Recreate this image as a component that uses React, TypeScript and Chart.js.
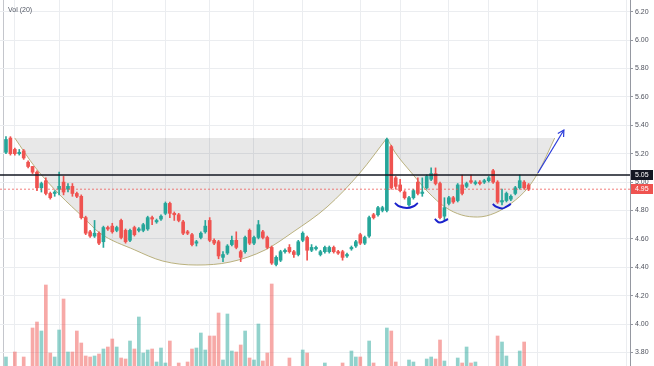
import React, { useEffect, useRef } from 'react';
import { Chart, registerables } from 'chart.js';
Chart.register(...registerables);

// ---- Data ----
const OPEN = [
  5.21, 5.31, 5.23, 5.20, 5.22, 5.14, 5.11, 5.07, 4.96, 5.01,
  4.92, 4.92, 4.95, 5.00, 4.95, 4.97, 4.92, 4.90, 4.75, 4.65,
  4.62, 4.64, 4.58, 4.68, 4.69, 4.66, 4.73, 4.66, 4.59, 4.68,
  4.66, 4.66, 4.67, 4.75, 4.72, 4.74, 4.78, 4.85, 4.78, 4.77,
  4.72, 4.65, 4.63, 4.57, 4.61, 4.65, 4.73, 4.59, 4.58, 4.47,
  4.50, 4.56, 4.59, 4.51, 4.51, 4.66, 4.57, 4.61, 4.65, 4.61,
  4.54, 4.42, 4.45, 4.51, 4.54, 4.51, 4.49, 4.59, 4.61, 4.52,
  4.53, 4.49, 4.51, 4.51, 4.54, 4.51, 4.51, 4.48, 4.53, 4.55,
  4.63, 4.57, 4.62, 4.77, 4.77, 4.80, 4.80, 5.25, 5.03, 4.98,
  4.93, 4.84, 4.89, 5.00, 4.92, 4.96, 5.02, 5.06, 4.99, 4.76,
  4.85, 4.89, 4.87, 4.98, 4.97, 5.01, 4.99, 5.00, 5.00, 5.01,
  5.08, 5.00, 4.86, 4.87, 4.88, 4.92, 4.96, 5.00, 4.98,
];
const HIGH = [
  5.32, 5.32, 5.24, 5.23, 5.23, 5.15, 5.11, 5.08, 5.00, 5.03,
  4.93, 4.94, 5.07, 5.04, 4.99, 4.99, 4.93, 4.91, 4.76, 4.66,
  4.73, 4.65, 4.69, 4.69, 4.71, 4.69, 4.74, 4.67, 4.67, 4.69,
  4.68, 4.71, 4.76, 4.76, 4.74, 4.77, 4.86, 4.86, 4.79, 4.78,
  4.73, 4.66, 4.64, 4.59, 4.65, 4.73, 4.75, 4.60, 4.59, 4.51,
  4.56, 4.62, 4.65, 4.52, 4.62, 4.67, 4.62, 4.73, 4.66, 4.62,
  4.55, 4.48, 4.52, 4.53, 4.56, 4.52, 4.59, 4.65, 4.62, 4.56,
  4.55, 4.52, 4.55, 4.55, 4.55, 4.52, 4.52, 4.50, 4.55, 4.59,
  4.64, 4.62, 4.76, 4.78, 4.83, 4.83, 5.31, 5.26, 5.04, 5.02,
  4.94, 4.90, 4.95, 5.03, 5.03, 5.05, 5.10, 5.10, 5.00, 4.89,
  4.90, 4.90, 4.99, 5.05, 5.00, 5.05, 5.01, 5.01, 5.02, 5.04,
  5.09, 5.01, 4.95, 4.93, 4.91, 4.97, 5.05, 5.01, 4.99,
];
const LOW = [
  5.20, 5.19, 5.19, 5.19, 5.16, 5.10, 5.06, 4.94, 4.93, 4.91,
  4.88, 4.90, 4.91, 4.91, 4.93, 4.90, 4.89, 4.74, 4.63, 4.61,
  4.61, 4.56, 4.54, 4.66, 4.64, 4.65, 4.60, 4.57, 4.58, 4.62,
  4.65, 4.65, 4.66, 4.70, 4.71, 4.73, 4.77, 4.75, 4.73, 4.72,
  4.63, 4.63, 4.55, 4.55, 4.60, 4.64, 4.58, 4.56, 4.46, 4.44,
  4.49, 4.55, 4.53, 4.44, 4.50, 4.56, 4.56, 4.60, 4.60, 4.53,
  4.42, 4.41, 4.44, 4.50, 4.50, 4.47, 4.48, 4.58, 4.45, 4.51,
  4.52, 4.48, 4.50, 4.50, 4.50, 4.49, 4.45, 4.47, 4.52, 4.54,
  4.56, 4.56, 4.61, 4.74, 4.76, 4.79, 4.79, 4.95, 4.95, 4.93,
  4.88, 4.83, 4.88, 4.91, 4.90, 4.95, 5.01, 4.98, 4.74, 4.73,
  4.84, 4.85, 4.86, 4.91, 4.96, 4.99, 4.98, 4.98, 4.99, 5.00,
  4.99, 4.85, 4.84, 4.86, 4.87, 4.91, 4.95, 4.95, 4.94,
];
const CLOSE = [
  5.30, 5.20, 5.20, 5.21, 5.17, 5.11, 5.07, 4.96, 4.99, 4.92,
  4.89, 4.93, 4.97, 4.93, 4.97, 4.92, 4.90, 4.75, 4.64, 4.62,
  4.64, 4.57, 4.68, 4.67, 4.65, 4.68, 4.61, 4.58, 4.66, 4.63,
  4.67, 4.70, 4.75, 4.74, 4.73, 4.76, 4.85, 4.78, 4.77, 4.73,
  4.64, 4.64, 4.56, 4.58, 4.64, 4.69, 4.59, 4.57, 4.48, 4.49,
  4.55, 4.59, 4.54, 4.47, 4.61, 4.57, 4.61, 4.70, 4.61, 4.54,
  4.43, 4.47, 4.51, 4.52, 4.51, 4.49, 4.58, 4.64, 4.52, 4.54,
  4.54, 4.51, 4.54, 4.54, 4.51, 4.50, 4.47, 4.49, 4.54, 4.58,
  4.57, 4.61, 4.75, 4.75, 4.82, 4.82, 5.30, 4.96, 4.97, 4.94,
  4.89, 4.89, 4.94, 4.92, 4.93, 5.04, 5.06, 4.99, 4.75, 4.82,
  4.89, 4.86, 4.98, 4.92, 4.99, 5.00, 5.00, 4.99, 5.01, 5.03,
  5.00, 4.86, 4.87, 4.92, 4.90, 4.96, 5.01, 4.96, 4.95,
];
const VOLUME = [
  15, 4, 20, 5, 15, 5, 44, 50, 41, 87,
  19, 15, 42, 73, 20, 20, 41, 29, 16, 15,
  16, 18, 23, 25, 33, 25, 14, 13, 31, 23,
  55, 19, 22, 23, 10, 24, 9, 31, 5, 9,
  4, 10, 23, 24, 39, 22, 36, 36, 59, 12,
  58, 21, 20, 27, 41, 14, 12, 48, 11, 19,
  88, 5, 4, 5, 14, 5, 4, 22, 19, 5,
  4, 5, 9, 4, 5, 4, 9, 5, 21, 15,
  15, 5, 31, 9, 5, 4, 44, 41, 10, 5,
  4, 12, 10, 5, 4, 13, 15, 13, 32, 11,
  5, 4, 14, 9, 25, 9, 10, 5, 4, 5,
  5, 36, 30, 16, 5, 4, 21, 30, 5,
];

const PRICE_TICKS = [3.8, 4.0, 4.2, 4.4, 4.6, 4.8, 5.0, 5.2, 5.4, 5.6, 5.8, 6.0, 6.2];
const GRID_INDEX = [-0.5, 2, 12, 24, 36, 46, 56, 67, 80, 89, 100, 109, 120, 140];

const CUP_TOP = 5.31;
const CUP_X = [2, 6.55, 12.19, 17.38, 21.2, 29.1, 35.4, 43.1, 50.6, 58.5, 64.8, 72.5, 79.9, 86.0];
const CUP_Y = [5.31, 5.106, 4.909, 4.754, 4.641, 4.522, 4.444, 4.416, 4.437, 4.522, 4.648, 4.825, 5.064, 5.31];
const HANDLE_X = [86.0, 87.8, 91.6, 95.3, 99.1, 102.9, 106.5, 110.4, 114.2, 117.8, 120.1, 123.9];
const HANDLE_Y = [5.31, 5.212, 5.064, 4.93, 4.825, 4.768, 4.754, 4.782, 4.853, 4.958, 5.064, 5.31];

const ARC1_X = [87.8, 88.9, 90.5, 91.9, 93.0];
const ARC1_Y = [4.853, 4.828, 4.818, 4.828, 4.853];
const ARC2_X = [96.8, 98.0, 99.8];
const ARC2_Y = [4.74, 4.715, 4.74];
const ARC3_X = [109.9, 110.8, 112.0, 112.9, 114.0];
const ARC3_Y = [4.846, 4.825, 4.814, 4.825, 4.846];

const ARROW_X = [120.1, 125.97];
const ARROW_Y = [5.064, 5.367];

const RESISTANCE = 5.05;
const LAST_PRICE = 4.95;

const X_MIN = -1.35;
const X_MAX = 140.9;

const UP = '#26a69a';
const DOWN = '#ef5350';
const UP_VOL = 'rgba(38,166,154,0.5)';
const DOWN_VOL = 'rgba(239,83,80,0.5)';
const FONT = 'Liberation Sans';

export default function App() {
  const ref = useRef<HTMLCanvasElement | null>(null);

  useEffect(() => {
    if (!ref.current) return;
    const idx = OPEN.map((_, i) => i);
    const isUp = (i: number) => CLOSE[i] >= OPEN[i];
    const pts = (xs: number[], ys: number[]) => xs.map((x, k) => ({ x, y: ys[k] }));
    const plainLine = (data: any[], color: string, width: number, extra: any = {}) => ({
      type: 'line',
      data,
      borderColor: color,
      borderWidth: width,
      pointRadius: 0,
      fill: false,
      yAxisID: 'y',
      ...extra,
    });

    const overlay = {
      id: 'overlay',
      afterDatasetsDraw(chart: any) {
        const { ctx, scales } = chart;
        const xs = scales.x;
        const ys = scales.y;
        const x1 = xs.getPixelForValue(ARROW_X[0]);
        const y1 = ys.getPixelForValue(ARROW_Y[0]);
        const x2 = xs.getPixelForValue(ARROW_X[1]);
        const y2 = ys.getPixelForValue(ARROW_Y[1]);
        const a = Math.atan2(y2 - y1, x2 - x1);
        const L = 7;
        ctx.save();
        ctx.strokeStyle = '#2a3bd9';
        ctx.lineWidth = 1.2;
        ctx.beginPath();
        ctx.moveTo(x2 - L * Math.cos(a - 0.5), y2 - L * Math.sin(a - 0.5));
        ctx.lineTo(x2, y2);
        ctx.lineTo(x2 - L * Math.cos(a + 0.5), y2 - L * Math.sin(a + 0.5));
        ctx.stroke();
        ctx.restore();
      },
      afterDraw(chart: any) {
        const { ctx, scales, chartArea } = chart;
        const ys = scales.y;
        const box = (v: number, bg: string) => {
          const py = ys.getPixelForValue(v);
          ctx.fillStyle = bg;
          ctx.fillRect(chartArea.right + 1, Math.round(py) - 5, 22, 10);
          ctx.fillStyle = '#ffffff';
          ctx.font = `7px "${FONT}"`;
          ctx.textAlign = 'left';
          ctx.textBaseline = 'middle';
          ctx.fillText(v.toFixed(2), chartArea.right + 5, Math.round(py) + 0.5);
        };
        ctx.save();
        box(RESISTANCE, '#131722');
        box(LAST_PRICE, '#ef5350');
        ctx.fillStyle = '#555a66';
        ctx.font = `7px "${FONT}"`;
        ctx.textAlign = 'left';
        ctx.textBaseline = 'alphabetic';
        ctx.fillText('Vol (20)', 8, 12);
        ctx.restore();
      },
    };

    const chart = new Chart(ref.current, {
      type: 'bar',
      data: {
        datasets: [
          plainLine(pts([X_MIN, X_MAX], [RESISTANCE, RESISTANCE]), '#131722', 1.5, { order: 0 }),
          plainLine(pts([X_MIN, X_MAX], [LAST_PRICE, LAST_PRICE]), 'rgba(239,83,80,0.75)', 1, { order: 0, borderDash: [2, 2] }),
          plainLine(pts(ARC1_X, ARC1_Y), '#1a22cc', 2, { order: 0, tension: 0.4 }),
          plainLine(pts(ARC2_X, ARC2_Y), '#1a22cc', 2, { order: 0, tension: 0.4 }),
          plainLine(pts(ARC3_X, ARC3_Y), '#1a22cc', 2, { order: 0, tension: 0.4 }),
          plainLine(pts(ARROW_X, ARROW_Y), '#2a3bd9', 1.2, { order: 0 }),
          {
            type: 'bar',
            data: idx.map((i) => ({ x: i, y: [OPEN[i], CLOSE[i]] })),
            backgroundColor: idx.map((i) => (isUp(i) ? UP : DOWN)),
            barThickness: 3,
            grouped: false,
            yAxisID: 'y',
            order: 1,
          },
          {
            type: 'bar',
            data: idx.map((i) => ({ x: i, y: [LOW[i], HIGH[i]] })),
            backgroundColor: idx.map((i) => (isUp(i) ? UP : DOWN)),
            barThickness: 1,
            grouped: false,
            yAxisID: 'y',
            order: 2,
          },
          {
            type: 'bar',
            data: idx.map((i) => ({ x: i, y: VOLUME[i] })),
            backgroundColor: idx.map((i) => (isUp(i) ? UP_VOL : DOWN_VOL)),
            barThickness: 3,
            grouped: false,
            yAxisID: 'yv',
            order: 5,
          },
          plainLine(pts(CUP_X, CUP_Y), 'rgba(175,165,105,0.85)', 1, {
            order: 6,
            cubicInterpolationMode: 'monotone',
            fill: { value: CUP_TOP },
            backgroundColor: 'rgba(0,0,0,0.09)',
          }),
          plainLine(pts(HANDLE_X, HANDLE_Y), 'rgba(175,165,105,0.85)', 1, {
            order: 6,
            cubicInterpolationMode: 'monotone',
            fill: { value: CUP_TOP },
            backgroundColor: 'rgba(0,0,0,0.09)',
          }),
        ] as any,
      },
      options: {
        responsive: false,
        animation: false,
        events: [],
        layout: { padding: 0 },
        plugins: {
          legend: { display: false },
          tooltip: { enabled: false },
        },
        scales: {
          x: {
            type: 'linear',
            min: X_MIN,
            max: X_MAX,
            offset: false,
            ticks: { display: false },
            border: { display: false },
            grid: {
              offset: false,
              drawTicks: false,
              color: (c: any) => (c.tick && c.tick.value < 0 ? '#c4c6cc' : '#ebedf0'),
              lineWidth: 1,
            },
            afterBuildTicks: (s: any) => {
              s.ticks = GRID_INDEX.map((v) => ({ value: v }));
            },
            afterFit: (s: any) => {
              s.height = 0;
            },
          },
          y: {
            type: 'linear',
            position: 'right',
            min: 6.2824 - 366 / 142,
            max: 6.2824,
            border: { display: true, color: '#9598a1', width: 1 },
            grid: {
              color: '#ebedf0',
              tickLength: 3,
              tickColor: '#9598a1',
            },
            ticks: {
              autoSkip: false,
              padding: 2,
              color: '#50535e',
              font: { family: FONT, size: 7 },
              callback: (v: any) => Number(v).toFixed(2),
            },
            afterBuildTicks: (s: any) => {
              s.ticks = PRICE_TICKS.map((v) => ({ value: v }));
            },
            afterFit: (s: any) => {
              s.width = 24;
              s.paddingTop = 0;
              s.paddingBottom = 0;
            },
          },
          yv: {
            type: 'linear',
            display: false,
            min: 6,
            max: 372,
          },
        },
      } as any,
      plugins: [overlay],
    });
    return () => chart.destroy();
  }, []);

  return (
    <div style={{ position: 'absolute', left: 0, top: 0, width: 654, height: 366, background: '#ffffff' }}>
      <canvas ref={ref} width={654} height={366} style={{ display: 'block' }} />
    </div>
  );
}
